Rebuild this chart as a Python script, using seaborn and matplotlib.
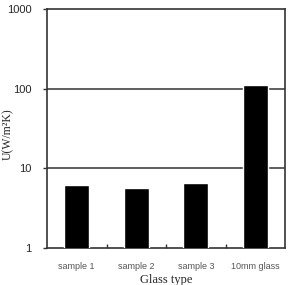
import matplotlib
matplotlib.use("Agg")
import matplotlib.pyplot as plt
import seaborn as sns
import pandas as pd
from matplotlib.ticker import FixedLocator, NullFormatter

categories = ["sample 1", "sample 2", "sample 3", "10mm glass"]
u_values = [6.1, 5.7, 6.5, 113]
y_ticks = [1, 10, 100, 1000]
y_tick_labels = ["1", "10", "100", "1000"]

df = pd.DataFrame({"Glass type": categories, "U": u_values})

sns.set_style("white")
fig = plt.figure(figsize=(2.9, 2.85), dpi=100)
ax = fig.add_axes([0.162, 0.13, 0.821, 0.838])

sns.barplot(data=df, x="Glass type", y="U", color="black", width=0.42,
            saturation=1, ax=ax, zorder=3)
ax.set_yscale("log")
ax.set_ylim(1, 1000)
ax.set_xlim(-0.5, 3.5)

ax.set_yticks(y_ticks)
ax.set_yticklabels(y_tick_labels, fontsize=8, family="Liberation Sans")
ax.yaxis.set_minor_formatter(NullFormatter())
ax.tick_params(axis="y", which="minor", length=0)
ax.tick_params(axis="y", which="major", length=3, width=1, color="#333333",
               direction="out", left=True, pad=8)

ax.set_xticks(range(len(categories)))
ax.set_xticklabels(categories, fontsize=6.5, color="#555555", family="Liberation Sans")
ax.xaxis.set_minor_locator(FixedLocator([0.5, 1.5, 2.5]))
ax.tick_params(axis="x", which="major", length=0, pad=10)
ax.tick_params(axis="x", which="minor", length=3, width=1, direction="in",
               color="#333333", bottom=True)

for v in [10, 100]:
    ax.axhline(v, color="#333333", lw=1.1, zorder=2)

for s in ax.spines.values():
    s.set_color("#333333")
    s.set_linewidth(1.2)

ax.set_xlabel("Glass type", fontsize=9, family="Liberation Serif", labelpad=2)
ax.set_ylabel("U(W/m\u00b2K)", fontsize=8.5, family="Liberation Serif")
ax.yaxis.set_label_coords(-0.14, 0.475)

fig.savefig("out.png", dpi=100)
